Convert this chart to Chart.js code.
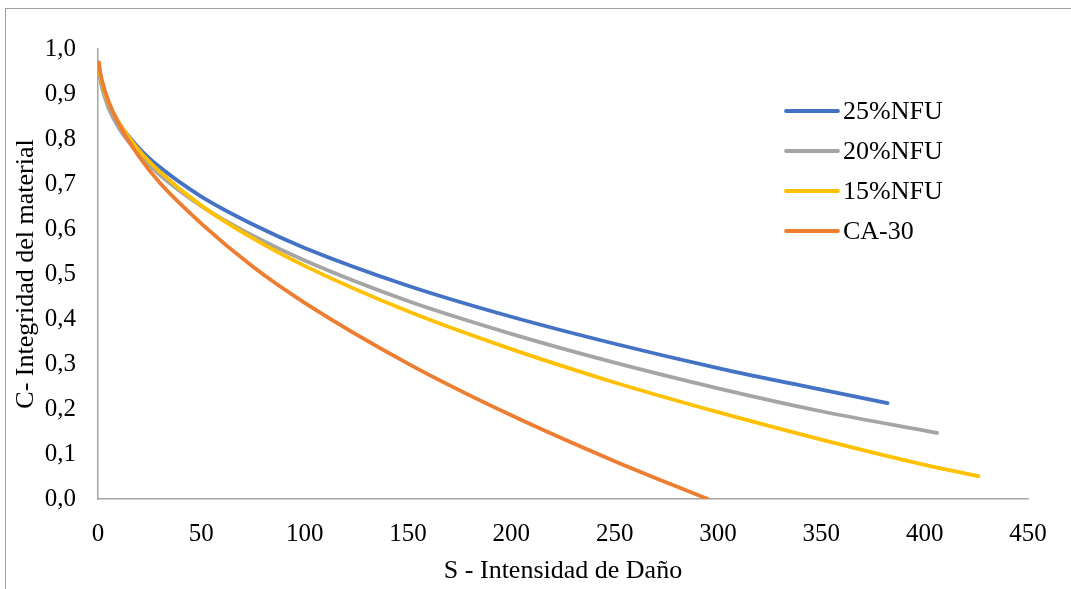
<!DOCTYPE html>
<html>
<head>
<meta charset="utf-8">
<script src="https://cdn.jsdelivr.net/npm/chart.js@4"></script>
<style>
  html, body { margin: 0; padding: 0; background: #fff; overflow: hidden; }
  #wrap { position: relative; width: 1071px; height: 589px; overflow: hidden; }
  #frame { position: absolute; left: 5px; top: 8px; width: 2000px; height: 2000px; border: 1px solid #a0a0a0; box-sizing: border-box; }
  #myChart { position: absolute; left: 0; top: 0; }
</style>
</head>
<body>
<div id="wrap">
  <div id="frame"></div>
  <canvas id="myChart" width="1071" height="589"></canvas>
</div>
<script>
const labels = ["25%NFU", "20%NFU", "15%NFU", "CA-30"];
const colors = ["#4472C4", "#A5A5A5", "#FFC000", "#ED7D31"];

// S - Intensidad de Daño (x) and C - Integridad (y)
const sBlue = [0.5, 1, 2, 5, 10, 20, 30, 50, 75, 100, 150, 200, 250, 300, 350, 382];
const cBlue = [0.955, 0.939, 0.918, 0.878, 0.836, 0.779, 0.737, 0.672, 0.610, 0.558, 0.474, 0.405, 0.345, 0.291, 0.243, 0.213];

const sGray = [0.5, 1, 2, 5, 10, 20, 30, 50, 75, 100, 150, 200, 250, 300, 350, 406];
const cGray = [0.952, 0.935, 0.913, 0.870, 0.825, 0.765, 0.720, 0.651, 0.585, 0.530, 0.440, 0.367, 0.303, 0.246, 0.195, 0.147];

const sYellow = [0.5, 1, 2, 5, 10, 20, 30, 50, 75, 100, 150, 200, 250, 300, 350, 400, 426];
const cYellow = [0.960, 0.945, 0.923, 0.882, 0.837, 0.774, 0.727, 0.652, 0.579, 0.518, 0.417, 0.333, 0.259, 0.193, 0.132, 0.076, 0.051];

const sOrange = [0.5, 1, 2, 5, 10, 20, 30, 50, 75, 100, 150, 200, 250, 295];
const cOrange = [0.970, 0.951, 0.929, 0.885, 0.834, 0.760, 0.702, 0.612, 0.516, 0.436, 0.301, 0.186, 0.084, 0.0];

const xTicks = [0, 50, 100, 150, 200, 250, 300, 350, 400, 450];
const yTicks = [0, 0.1, 0.2, 0.3, 0.4, 0.5, 0.6, 0.7, 0.8, 0.9, 1.0];

const FONT = "'Liberation Serif', 'Times New Roman', serif";

function pts(xs, ys) {
  return xs.map((x, i) => ({ x: x, y: ys[i] }));
}

const series = [
  pts(sBlue, cBlue),
  pts(sGray, cGray),
  pts(sYellow, cYellow),
  pts(sOrange, cOrange)
];

const data = {
  datasets: series.map((d, i) => ({
    label: labels[i],
    data: d,
    borderColor: colors[i],
    backgroundColor: colors[i],
    borderWidth: 3.8,
    pointRadius: 0,
    fill: false,
    cubicInterpolationMode: "monotone",
    borderCapStyle: "round",
    order: 3 - i
  }))
};

// legend drawn inside the plot, like the original
const insideLegend = {
  id: "insideLegend",
  afterDraw(chart) {
    const ctx = chart.ctx;
    ctx.save();
    ctx.font = "26px " + FONT;
    ctx.textBaseline = "middle";
    ctx.fillStyle = "#000";
    labels.forEach((t, i) => {
      const y = 111 + i * 40;
      ctx.strokeStyle = colors[i];
      ctx.lineWidth = 3.8;
      ctx.lineCap = "round";
      ctx.beginPath();
      ctx.moveTo(786, y);
      ctx.lineTo(838, y);
      ctx.stroke();
      ctx.fillText(t, 843, y + 1);
    });
    ctx.restore();
  }
};

const config = {
  type: "line",
  data: data,
  plugins: [insideLegend],
  options: {
    responsive: false,
    animation: false,
    layout: { padding: { top: 49, right: 43, bottom: 0, left: 0 } },
    plugins: {
      legend: { display: false },
      tooltip: { enabled: false }
    },
    scales: {
      x: {
        type: "linear",
        min: 0,
        max: 450,
        afterBuildTicks: (s) => { s.ticks = xTicks.map(v => ({ value: v })); },
        afterFit: (s) => { s.height = 90; },
        grid: { display: false, drawTicks: false },
        border: { display: true, color: "#a6a6a6", width: 1.5 },
        ticks: {
          padding: 20,
          color: "#000",
          font: { family: FONT, size: 25 },
          maxRotation: 0
        },
        title: {
          display: true,
          text: "S - Intensidad de Daño",
          color: "#000",
          font: { family: FONT, size: 26, lineHeight: 1.2 },
          padding: { top: 0, bottom: 2 }
        }
      },
      y: {
        min: 0,
        max: 1,
        afterBuildTicks: (s) => { s.ticks = yTicks.map(v => ({ value: v })); },
        afterFit: (s) => { s.width = 98; },
        grid: { display: false, drawTicks: false },
        border: { display: true, color: "#a6a6a6", width: 1.5 },
        ticks: {
          padding: 22,
          color: "#000",
          font: { family: FONT, size: 25 },
          callback: (v) => v.toFixed(1).replace(".", ",")
        },
        title: {
          display: true,
          text: "C- Integridad del material",
          color: "#000",
          font: { family: FONT, size: 26, lineHeight: 1.2 },
          padding: { top: 11, bottom: 0 }
        }
      }
    }
  }
};

const ctx = document.getElementById("myChart").getContext("2d");
new Chart(ctx, config);
</script>
</body>
</html>
